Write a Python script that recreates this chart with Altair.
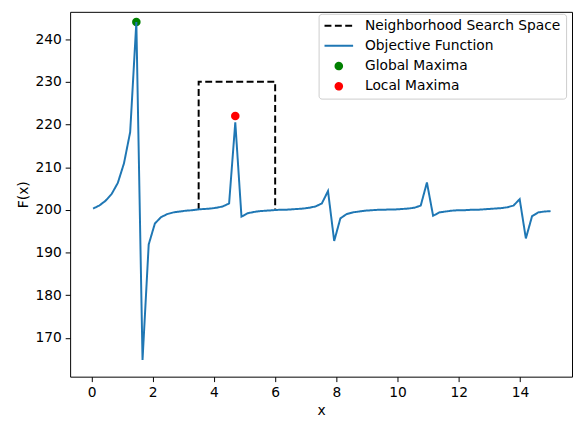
import altair as alt
import pandas as pd

# Objective function samples
x_vals = [0.050, 0.252, 0.454, 0.656, 0.858, 1.060, 1.262, 1.464, 1.666, 1.868,
          2.070, 2.272, 2.474, 2.676, 2.878, 3.080, 3.282, 3.484, 3.686, 3.888,
          4.091, 4.293, 4.495, 4.697, 4.899, 5.101, 5.303, 5.505, 5.707, 5.909,
          6.111, 6.313, 6.515, 6.717, 6.919, 7.121, 7.323, 7.525, 7.727, 7.929,
          8.131, 8.333, 8.535, 8.737, 8.939, 9.141, 9.343, 9.545, 9.747, 9.949,
          10.151, 10.353, 10.555, 10.757, 10.959, 11.161, 11.364, 11.566, 11.768, 11.970,
          12.172, 12.374, 12.576, 12.778, 12.980, 13.182, 13.384, 13.586, 13.788, 13.990,
          14.192, 14.394, 14.596, 14.798, 15.000]
y_vals = [200.3, 201.0, 202.1, 203.7, 206.3, 210.9, 218.2, 244.0, 164.8, 191.9,
          196.8, 198.3, 199.0, 199.4, 199.6, 199.8, 199.9, 200.1, 200.2, 200.3,
          200.5, 200.8, 201.5, 220.5, 198.4, 199.2, 199.5, 199.7, 199.8, 199.9,
          200.0, 200.0, 200.1, 200.2, 200.3, 200.5, 200.8, 201.5, 204.4, 192.7,
          198.0, 199.0, 199.4, 199.6, 199.8, 199.9, 200.0, 200.0, 200.1, 200.1,
          200.2, 200.3, 200.5, 201.0, 206.4, 198.6, 199.4, 199.6, 199.8, 199.9,
          199.9, 200.0, 200.0, 200.1, 200.2, 200.3, 200.4, 200.6, 201.0, 202.5,
          193.3, 198.5, 199.4, 199.6, 199.7]

# Neighborhood search space (open rectangle)
box_x = [3.5, 3.5, 6.0, 6.0]
box_y = [200.0, 230.0, 230.0, 200.0]

# Maxima
max_x = [1.464, 4.697]
max_y = [244.0, 222.0]
max_names = ["Global Maxima", "Local Maxima"]

series = ["Neighborhood Search Space", "Objective Function", "Global Maxima", "Local Maxima"]
colors = ["black", "#1f77b4", "green", "red"]

FONT = "DejaVu Sans"
DOT = "M-0.23,0A0.23,0.23,0,1,1,0.23,0A0.23,0.23,0,1,1,-0.23,0Z"

line_df = pd.DataFrame({"x": x_vals, "y": y_vals, "s": "Objective Function", "o": range(len(x_vals))})
box_df = pd.DataFrame({"x": box_x, "y": box_y, "s": "Neighborhood Search Space", "o": range(len(box_x))})
pt_df = pd.DataFrame({"x": max_x, "y": max_y, "s": max_names})

xscale = alt.Scale(domain=[-0.7, 15.7], nice=False, zero=False)
yscale = alt.Scale(domain=[160.9, 246.4], nice=False, zero=False)
cscale = alt.Scale(domain=series, range=colors)
shscale = alt.Scale(domain=series, range=["stroke", "stroke", DOT, DOT])
dscale = alt.Scale(domain=series, range=[[7, 3.5], [1, 0], [1, 0], [1, 0]])

common_axis = dict(domain=False, grid=False, tickSize=5, tickColor="black", tickWidth=1,
                   labelColor="black", labelFontSize=14, labelFont=FONT,
                   titleFont=FONT, titleFontSize=14, titleFontWeight="normal", titleColor="black")

xaxis = alt.Axis(values=[0, 2, 4, 6, 8, 10, 12, 14], title="x", labelPadding=4, titlePadding=4,
                 format="d", **common_axis)
yaxis = alt.Axis(values=[170, 180, 190, 200, 210, 220, 230, 240], title="F(x)", labelPadding=4,
                 titlePadding=5, format="d", **common_axis)

legend = alt.Legend(
    title=None, orient="none", legendX=252, legendY=2,
    symbolSize=841, symbolStrokeWidth=2, labelOffset=11, symbolOffset=0,
    padding=5, rowPadding=6.5, clipHeight=14, symbolOpacity=1, labelLimit=400,
    labelFont=FONT, labelFontSize=14, labelColor="black",
    fillColor="white", strokeColor="#cccccc", cornerRadius=3,
)

box = alt.Chart(box_df).mark_line(strokeWidth=2).encode(
    x=alt.X("x:Q", scale=xscale, axis=xaxis),
    y=alt.Y("y:Q", scale=yscale, axis=yaxis),
    color=alt.Color("s:N", scale=cscale, legend=legend),
    strokeDash=alt.StrokeDash("s:N", scale=dscale, legend=legend),
    order="o:Q",
)

pts = alt.Chart(pt_df).mark_point(filled=True, size=1430, opacity=1).encode(
    x=alt.X("x:Q", scale=xscale),
    y=alt.Y("y:Q", scale=yscale),
    color=alt.Color("s:N", scale=cscale, legend=legend),
    shape=alt.Shape("s:N", scale=shscale, legend=legend),
)

line = alt.Chart(line_df).mark_line(strokeWidth=2).encode(
    x=alt.X("x:Q", scale=xscale),
    y=alt.Y("y:Q", scale=yscale),
    color=alt.Color("s:N", scale=cscale, legend=legend),
    strokeDash=alt.StrokeDash("s:N", scale=dscale, legend=legend),
    order="o:Q",
)

chart = alt.layer(box, pts, line).properties(
    width=509, height=370,
    autosize=alt.AutoSizeParams(type="none"),
    padding={"left": 63, "top": 1, "right": 1, "bottom": 38},
).configure(
    background="white",
    view=alt.ViewConfig(stroke="black", strokeWidth=1),
)

chart.save("out.html", embed_options={"renderer": "svg", "actions": False})
